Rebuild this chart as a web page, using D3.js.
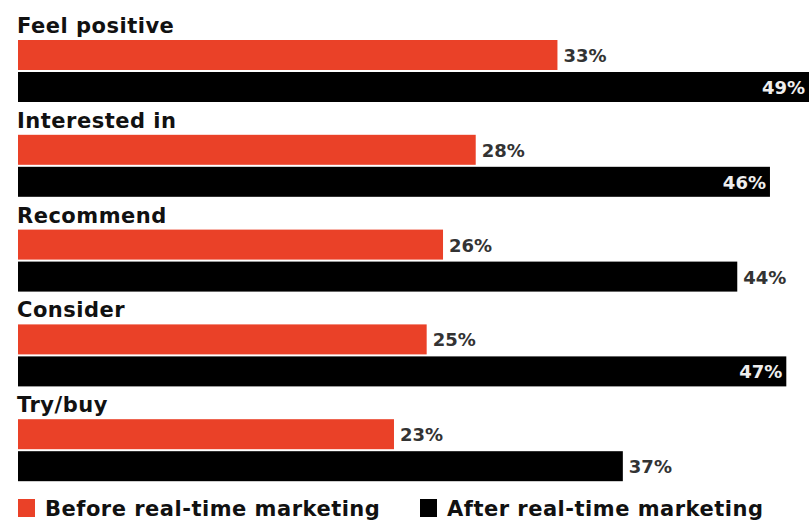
<!DOCTYPE html>
<html>
<head>
<meta charset="utf-8">
<script src="https://cdn.jsdelivr.net/npm/d3@7"></script>
<style>
  html, body { margin: 0; padding: 0; background: #fff; }
  svg { display: block; font-family: "DejaVu Sans", "Open Sans", sans-serif; }
</style>
</head>
<body>
<div id="chart"></div>
<script>
const categories = ["Feel positive", "Interested in", "Recommend", "Consider", "Try/buy"];
const before = [33, 28, 26, 25, 23];
const after = [49, 46, 44, 47, 37];
const seriesNames = ["Before real-time marketing", "After real-time marketing"];
const colors = ["#ea4128", "#000000"];

const width = 809, height = 529;

const svg = d3.select("#chart")
  .append("svg")
  .attr("width", width)
  .attr("height", height);

const x = d3.scaleLinear().domain([0, 49]).range([18, 819]);
const y = d3.scaleBand().domain(categories).range([12, 486]).paddingInner(0);

const groups = svg.selectAll("g.grp")
  .data(categories)
  .join("g")
  .attr("class", "grp")
  .attr("transform", d => `translate(0,${y(d)})`);

// category labels
groups.append("text")
  .attr("x", 17)
  .attr("y", 21)
  .style("font-size", "21px")
  .style("font-weight", "bold")
  .style("letter-spacing", "0.5px")
  .style("fill", "#111")
  .text(d => d);

// before bars
groups.append("rect")
  .attr("x", x(0))
  .attr("y", 28)
  .attr("width", (d, i) => x(before[i]) - x(0))
  .attr("height", 30)
  .attr("fill", colors[0]);

groups.append("text")
  .attr("x", (d, i) => x(before[i]) + 6)
  .attr("y", 50)
  .style("font-size", "18px")
  .style("font-weight", "bold")
  .style("fill", "#333")
  .text((d, i) => before[i] + "%");

// after bars
groups.append("rect")
  .attr("x", x(0))
  .attr("y", 60)
  .attr("width", (d, i) => x(after[i]) - x(0))
  .attr("height", 30)
  .attr("fill", colors[1]);

groups.append("text")
  .attr("x", (d, i) => after[i] >= 45 ? Math.min(x(after[i]), width) - 4 : x(after[i]) + 6)
  .attr("y", 82)
  .attr("text-anchor", (d, i) => after[i] >= 45 ? "end" : "start")
  .style("font-size", "18px")
  .style("font-weight", "bold")
  .style("fill", (d, i) => after[i] >= 45 ? "#eee" : "#333")
  .text((d, i) => after[i] + "%");

// legend
const legendX = [18, 420];
const legend = svg.selectAll("g.leg")
  .data(seriesNames)
  .join("g")
  .attr("class", "leg")
  .attr("transform", (d, i) => `translate(${legendX[i]},499)`);

legend.append("rect")
  .attr("width", 17)
  .attr("height", 18)
  .attr("fill", (d, i) => colors[i]);

legend.append("text")
  .attr("x", 27)
  .attr("y", 17)
  .style("font-size", "21px")
  .style("font-weight", "bold")
  .style("letter-spacing", "0.5px")
  .style("fill", "#111")
  .text(d => d);
</script>
</body>
</html>
